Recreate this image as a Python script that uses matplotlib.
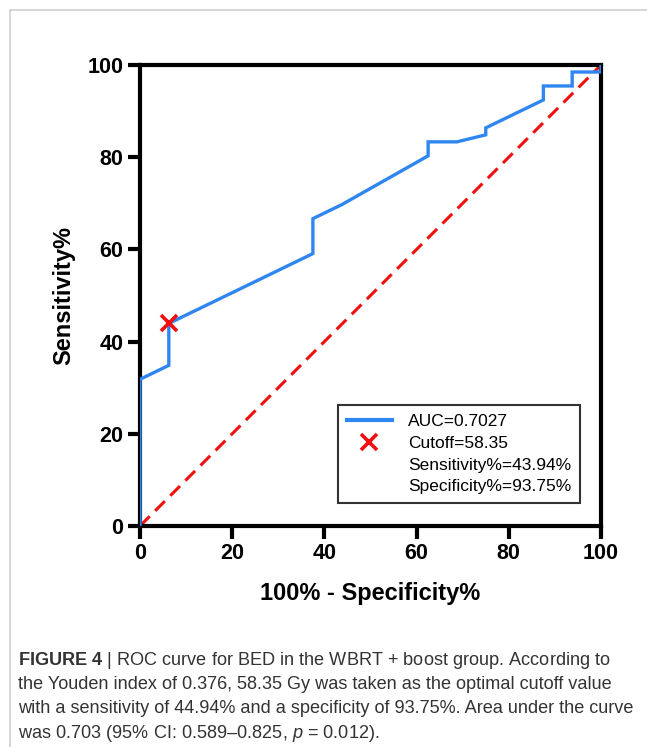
import matplotlib
matplotlib.use("Agg")
import matplotlib.pyplot as plt
from matplotlib.lines import Line2D
from matplotlib.patches import Rectangle

plt.rcParams['font.family'] = ['Liberation Sans', 'DejaVu Sans']
plt.rcParams['mathtext.fontset'] = 'custom'
plt.rcParams['mathtext.rm'] = 'Liberation Sans'
plt.rcParams['mathtext.it'] = 'Liberation Sans:italic'
plt.rcParams['mathtext.bf'] = 'Liberation Sans:bold'

# ROC curve points (100% - specificity, sensitivity)
fpr = [0, 0, 6.25, 6.25, 37.5, 37.5, 43.75, 62.5, 62.5, 68.75, 75.0, 75.0, 87.5, 87.5, 93.75, 93.75, 100, 100]
tpr = [0, 31.82, 34.85, 43.94, 59.09, 66.67, 69.70, 80.30, 83.33, 83.33, 84.85, 86.36, 92.42, 95.45, 95.45, 98.48, 98.48, 100]
cutoff_x = 6.25
cutoff_y = 43.94
ticks = [0, 20, 40, 60, 80, 100]
legend_labels = ["AUC=0.7027", "Cutoff=58.35", "Sensitivity%=43.94%", "Specificity%=93.75%"]

fig = plt.figure(figsize=(6.47, 7.47), dpi=100)

# thin grey frame of the figure panel
fig.patches.append(Rectangle((10 / 647, -0.1), 1.2, 1 - 10 / 747 + 0.1, transform=fig.transFigure,
                             fill=False, edgecolor='#d0d0d0', linewidth=1.2))

ax = fig.add_axes([140 / 647, 1 - 526 / 747, 461 / 647, 461 / 747])
blue = '#2f86f0'
red = '#f01010'
ax.plot(fpr, tpr, color=blue, lw=2.4, solid_joinstyle='miter', zorder=3)
ax.plot([0, 100], [0, 100], color=red, lw=2.2, ls=(0, (4.5, 2.5)), zorder=2)
ax.plot([cutoff_x], [cutoff_y], marker='x', color=red, ms=11, mew=2.6, ls='none', zorder=4)

ax.set_xlim(0, 100)
ax.set_ylim(0, 100)
ax.set_xticks(ticks)
ax.set_yticks(ticks)
for s in ax.spines.values():
    s.set_linewidth(3)
ax.tick_params(width=3, length=9, labelsize=15.5, pad=3)
for lab in ax.get_xticklabels() + ax.get_yticklabels():
    lab.set_fontweight('bold')
ax.set_xlabel("100% - Specificity%", fontsize=17, fontweight='bold', labelpad=13)
ax.set_ylabel("Sensitivity%", fontsize=17, fontweight='bold', labelpad=9)

handles = [Line2D([], [], color=blue, lw=3),
           Line2D([], [], color=red, marker='x', ls='none', ms=11, mew=2.6),
           Line2D([], [], ls='none'),
           Line2D([], [], ls='none')]
leg = ax.legend(handles, legend_labels, loc='lower right', bbox_to_anchor=(0.955, 0.05),
                fontsize=12.5, frameon=True, fancybox=False, edgecolor='black',
                handlelength=2.6, handletextpad=0.95, labelspacing=0.38, borderpad=0.5,
                borderaxespad=0)
leg.get_frame().set_linewidth(1.5)

fig.text(18 / 647, 1 - 665 / 747, r"$\bf{FIGURE\ 4}$ | ROC curve for BED in the WBRT + boost group. According to",
         fontsize=13.1, color='#333333', va='baseline')
cap = ["the Youden index of 0.376, 58.35 Gy was taken as the optimal cutoff value",
       "with a sensitivity of 44.94% and a specificity of 93.75%. Area under the curve",
       "was 0.703 (95% CI: 0.589\u20130.825, $\\it{p}$ = 0.012)."]
for i, line in enumerate(cap):
    fig.text(18 / 647, 1 - (689 + 24.3 * i) / 747, line, fontsize=13.1, color='#333333', va='baseline')

fig.savefig("out.png", dpi=100)
